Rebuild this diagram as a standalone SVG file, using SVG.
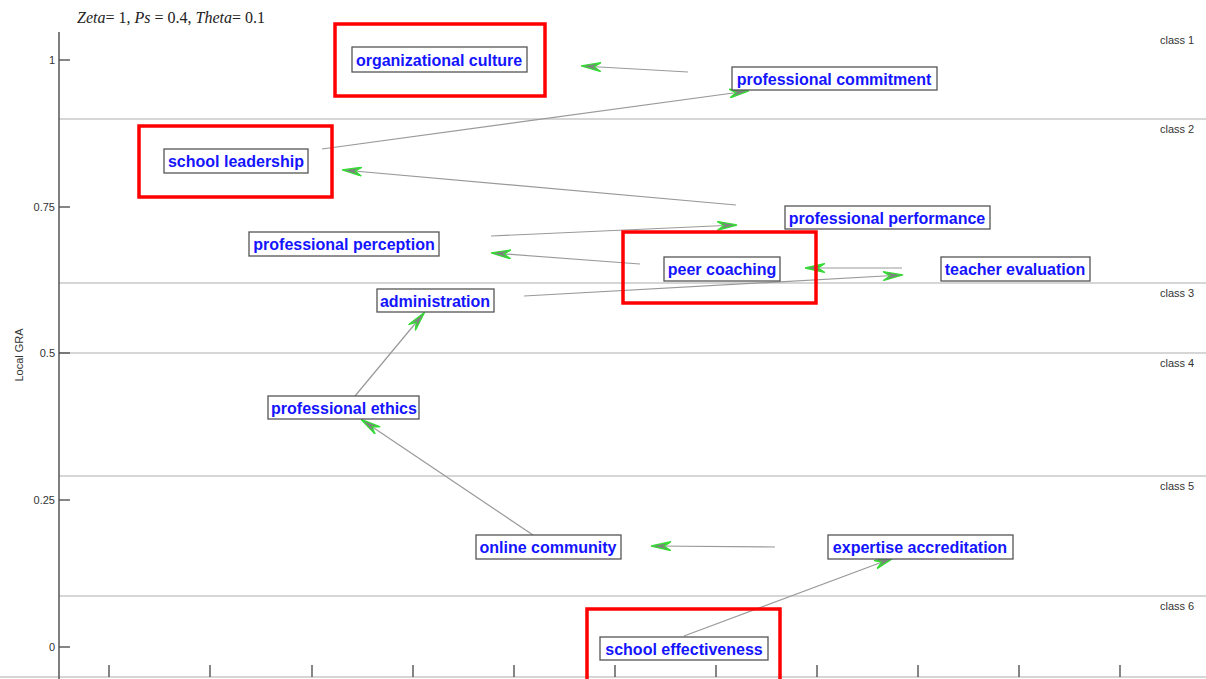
<svg xmlns="http://www.w3.org/2000/svg" width="1206" height="679" viewBox="0 0 1206 679">
<style>
.grid{stroke:#c8c8c8;stroke-width:1.5;fill:none}
.axis{stroke:#555;stroke-width:1.5;fill:none}
.tick{stroke:#444;stroke-width:1.3}
.tl{font-family:"Liberation Sans",Arial,sans-serif;font-size:11px;fill:#333}
.cl{font-family:"Liberation Sans",Arial,sans-serif;font-size:11px;fill:#333}
.nb{fill:#fff;stroke:#555;stroke-width:1.3}
.nt{font-family:"Liberation Sans",Arial,sans-serif;font-size:16px;font-weight:bold;fill:#1414ff;text-anchor:middle}
.red{fill:none;stroke:#ff0000;stroke-width:3.5}
.edge{stroke:#999;stroke-width:1.2;fill:none;marker-end:url(#ah)}
.ti{font-family:"Liberation Serif","Times New Roman",serif;font-size:16px;fill:#222}
</style>
<defs>
<marker id="ah" viewBox="0 0 20 10" refX="19" refY="5" markerWidth="20" markerHeight="10" markerUnits="userSpaceOnUse" orient="auto">
<path d="M20,5 L0,0.5 L7,5 L0,9.5 Z" fill="#808080" stroke="#33dd33" stroke-width="1.3" stroke-linejoin="miter"/>
</marker>
</defs>
<rect width="1206" height="679" fill="#fff"/>
<g id="axes">
<line class="grid" x1="59" y1="119" x2="1206" y2="119"/>
<line class="grid" x1="59" y1="283" x2="1206" y2="283"/>
<line class="grid" x1="59" y1="353" x2="1206" y2="353"/>
<line class="grid" x1="59" y1="476" x2="1206" y2="476"/>
<line class="grid" x1="59" y1="596" x2="1206" y2="596"/>
<line class="grid" x1="0" y1="677" x2="1206" y2="677"/>
<line class="axis" x1="59" y1="32" x2="59" y2="679"/>
<line class="tick" x1="59" y1="60" x2="70" y2="60"/>
<line class="tick" x1="59" y1="207" x2="70" y2="207"/>
<line class="tick" x1="59" y1="353" x2="70" y2="353"/>
<line class="tick" x1="59" y1="500" x2="70" y2="500"/>
<line class="tick" x1="59" y1="647" x2="70" y2="647"/>
<text class="tl" x="55" y="64" text-anchor="end">1</text>
<text class="tl" x="55" y="211" text-anchor="end">0.75</text>
<text class="tl" x="55" y="357" text-anchor="end">0.5</text>
<text class="tl" x="55" y="504" text-anchor="end">0.25</text>
<text class="tl" x="55" y="651" text-anchor="end">0</text>
<g class="tick">
<line x1="109" y1="665" x2="109" y2="677"/>
<line x1="210" y1="665" x2="210" y2="677"/>
<line x1="312" y1="665" x2="312" y2="677"/>
<line x1="413" y1="665" x2="413" y2="677"/>
<line x1="514" y1="665" x2="514" y2="677"/>
<line x1="615" y1="665" x2="615" y2="677"/>
<line x1="716" y1="665" x2="716" y2="677"/>
<line x1="817" y1="665" x2="817" y2="677"/>
<line x1="918" y1="665" x2="918" y2="677"/>
<line x1="1019" y1="665" x2="1019" y2="677"/>
<line x1="1120" y1="665" x2="1120" y2="677"/>
</g>
<text class="tl" transform="translate(23,355) rotate(-90)" text-anchor="middle">Local GRA</text>
<text class="cl" x="1160" y="44">class 1</text>
<text class="cl" x="1160" y="133">class 2</text>
<text class="cl" x="1160" y="297">class 3</text>
<text class="cl" x="1160" y="367">class 4</text>
<text class="cl" x="1160" y="490">class 5</text>
<text class="cl" x="1160" y="610">class 6</text>
<text class="ti" x="77" y="23"><tspan font-style="italic">Zeta</tspan>= 1, <tspan font-style="italic">Ps</tspan> = 0.4, <tspan font-style="italic">Theta</tspan>= 0.1</text>
</g>
<g id="connectors">
<line class="edge" x1="688" y1="72" x2="582" y2="66"/>
<line class="edge" x1="322" y1="149" x2="748" y2="91"/>
<line class="edge" x1="736" y1="205" x2="343" y2="170"/>
<line class="edge" x1="491" y1="236" x2="736" y2="225"/>
<line class="edge" x1="640" y1="264" x2="492" y2="253"/>
<line class="edge" x1="902" y1="268" x2="806" y2="268"/>
<line class="edge" x1="524" y1="296" x2="902" y2="275"/>
<line class="edge" x1="355" y1="396" x2="424" y2="313"/>
<line class="edge" x1="533" y1="535" x2="362" y2="420"/>
<line class="edge" x1="775" y1="547" x2="652" y2="546"/>
<line class="edge" x1="684" y1="636" x2="893" y2="558"/>
</g>
<g id="organizational-culture"><rect class="red" x="335" y="24" width="210" height="72"/><rect class="nb" x="352" y="47" width="175" height="25"/><text class="nt" x="439" y="65.5">organizational culture</text></g>
<g id="professional-commitment"><rect class="nb" x="732" y="67" width="205" height="23"/><text class="nt" x="834" y="84.5">professional commitment</text></g>
<g id="school-leadership"><rect class="red" x="139" y="126" width="193" height="71"/><rect class="nb" x="164" y="149" width="144" height="24"/><text class="nt" x="236" y="166.5">school leadership</text></g>
<g id="professional-performance"><rect class="nb" x="785" y="206" width="205" height="23"/><text class="nt" x="887" y="223.5">professional performance</text></g>
<g id="professional-perception"><rect class="nb" x="249" y="232" width="190" height="24"/><text class="nt" x="344" y="249.5">professional perception</text></g>
<g id="peer-coaching"><rect class="red" x="623" y="232" width="193" height="71"/><rect class="nb" x="664" y="257" width="116" height="24"/><text class="nt" x="722" y="274.5">peer coaching</text></g>
<g id="teacher-evaluation"><rect class="nb" x="941" y="257" width="149" height="24"/><text class="nt" x="1015" y="274.5">teacher evaluation</text></g>
<g id="administration"><rect class="nb" x="377" y="289" width="117" height="23"/><text class="nt" x="435" y="306.5">administration</text></g>
<g id="professional-ethics"><rect class="nb" x="268" y="396" width="151" height="23"/><text class="nt" x="344" y="413.5">professional ethics</text></g>
<g id="online-community"><rect class="nb" x="476" y="535" width="145" height="24"/><text class="nt" x="548" y="552.5">online community</text></g>
<g id="expertise-accreditation"><rect class="nb" x="828" y="535" width="185" height="24"/><text class="nt" x="920" y="552.5">expertise accreditation</text></g>
<g id="school-effectiveness"><rect class="red" x="587" y="609" width="193" height="80"/><rect class="nb" x="600" y="637" width="168" height="23"/><text class="nt" x="684" y="654.5">school effectiveness</text></g>
</svg>
